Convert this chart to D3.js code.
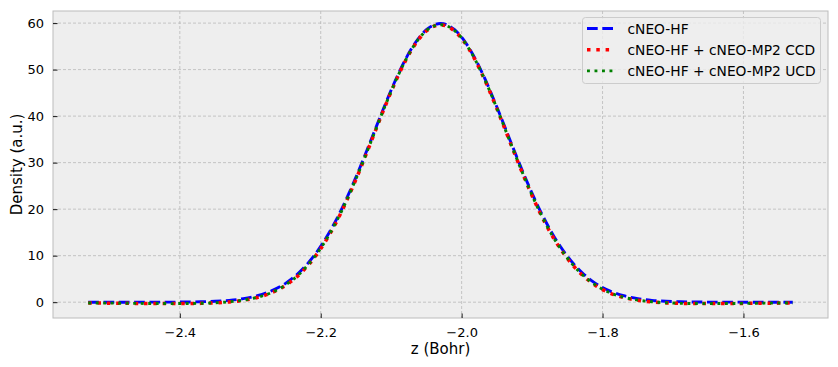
<!DOCTYPE html>
<html>
<head>
<meta charset="utf-8">
<script src="https://cdn.jsdelivr.net/npm/d3@7"></script>
<style>
  body { margin: 0; background: #fff; }
  svg { display: block; font-family: "DejaVu Sans", sans-serif; }
</style>
</head>
<body>
<svg id="chart" width="838" height="367"></svg>
<script>
// z grid (Bohr) at 0.02 steps
var zValues = [
  -2.53, -2.51, -2.49, -2.47, -2.45, -2.43, -2.41, -2.39, -2.37, -2.35,
  -2.33, -2.31, -2.29, -2.27, -2.25, -2.23, -2.21, -2.19, -2.17, -2.15,
  -2.13, -2.11, -2.09, -2.07, -2.05, -2.03, -2.01, -1.99, -1.97, -1.95,
  -1.93, -1.91, -1.89, -1.87, -1.85, -1.83, -1.81, -1.79, -1.77, -1.75,
  -1.73, -1.71, -1.69, -1.67, -1.65, -1.63, -1.61, -1.59, -1.57, -1.55, -1.53
];

var hfDensity = [
  0.00, 0.00, 0.00, 0.00, 0.01, 0.01, 0.02, 0.04, 0.10, 0.20,
  0.40, 0.76, 1.39, 2.43, 4.05, 6.47, 9.88, 14.42, 20.13, 26.88,
  34.34, 41.96, 49.03, 54.80, 58.58, 59.90, 58.58, 54.80, 49.03, 41.96,
  34.34, 26.88, 20.13, 14.42, 9.88, 6.47, 4.05, 2.43, 1.39, 0.76,
  0.40, 0.20, 0.10, 0.04, 0.02, 0.01, 0.01, 0.00, 0.00, 0.00, 0.00
];

var ccdDensity = [
  -0.18, -0.20, -0.22, -0.25, -0.28, -0.30, -0.30, -0.30, -0.25, -0.15,
  0.05, 0.40, 1.00, 2.00, 3.60, 6.00, 9.40, 13.90, 19.60, 26.40,
  33.90, 41.60, 48.70, 54.50, 58.30, 59.60, 58.30, 54.50, 48.70, 41.60,
  33.90, 26.40, 19.60, 13.90, 9.40, 6.00, 3.60, 2.00, 1.00, 0.40,
  0.05, -0.15, -0.25, -0.30, -0.30, -0.30, -0.28, -0.25, -0.22, -0.20, -0.18
];

var ucdDensity = [
  -0.17, -0.19, -0.21, -0.24, -0.27, -0.29, -0.30, -0.29, -0.24, -0.13,
  0.08, 0.45, 1.05, 2.05, 3.70, 6.10, 9.50, 14.00, 19.70, 26.50,
  34.00, 41.70, 48.80, 54.60, 58.40, 59.65, 58.40, 54.60, 48.80, 41.70,
  34.00, 26.50, 19.70, 14.00, 9.50, 6.10, 3.70, 2.05, 1.05, 0.45,
  0.08, -0.13, -0.24, -0.29, -0.30, -0.29, -0.27, -0.24, -0.21, -0.19, -0.17
];

var seriesNames = ["cNEO-HF", "cNEO-HF + cNEO-MP2 CCD", "cNEO-HF + cNEO-MP2 UCD"];
var xTicks = [-2.4, -2.2, -2.0, -1.8, -1.6];
var yTicks = [0, 10, 20, 30, 40, 50, 60];

var styles = [
  { color: "#0000ff", width: 2.9, dash: "10.7,4.6" },
  { color: "#ff0000", width: 3.5, dash: "3.5,5.8" },
  { color: "#008000", width: 2.9, dash: "2.9,4.6" }
];

var svg = d3.select("#chart");
var plotL = 53, plotR = 828, plotT = 11, plotB = 318;

var x = d3.scaleLinear().domain([-2.58, -1.48]).range([plotL, plotR]);
var y = d3.scaleLinear().domain([-3.4, 62.6]).range([plotB, plotT]);

svg.append("rect")
  .attr("x", plotL).attr("y", plotT)
  .attr("width", plotR - plotL).attr("height", plotB - plotT)
  .attr("fill", "#eeeeee");

// grid
var grid = svg.append("g");
xTicks.forEach(function(t) {
  grid.append("line")
    .attr("x1", x(t)).attr("x2", x(t)).attr("y1", plotT).attr("y2", plotB)
    .attr("stroke", "#b2b2b2").attr("stroke-width", 0.7).attr("stroke-dasharray", "3,2");
});
yTicks.forEach(function(t) {
  grid.append("line")
    .attr("x1", plotL).attr("x2", plotR).attr("y1", y(t)).attr("y2", y(t))
    .attr("stroke", "#b2b2b2").attr("stroke-width", 0.7).attr("stroke-dasharray", "3,2");
});

// curves
var seriesData = [hfDensity, ccdDensity, ucdDensity];
var line = d3.line()
  .x(function(d) { return x(d[0]); })
  .y(function(d) { return y(d[1]); })
  .curve(d3.curveMonotoneX);

svg.append("clipPath").attr("id", "clip")
  .append("rect").attr("x", plotL).attr("y", plotT)
  .attr("width", plotR - plotL).attr("height", plotB - plotT);

seriesData.forEach(function(vals, i) {
  var pts = zValues.map(function(z, j) { return [z, vals[j]]; });
  svg.append("path")
    .attr("d", line(pts))
    .attr("fill", "none")
    .attr("clip-path", "url(#clip)")
    .attr("stroke", styles[i].color)
    .attr("stroke-width", styles[i].width)
    .attr("stroke-dasharray", styles[i].dash)
    .attr("stroke-linecap", "butt");
});

// frame
svg.append("rect")
  .attr("x", plotL).attr("y", plotT)
  .attr("width", plotR - plotL).attr("height", plotB - plotT)
  .attr("fill", "none").attr("stroke", "#bcbcbc").attr("stroke-width", 1);

// axes
var xAxis = d3.axisBottom(x).tickValues(xTicks).tickSizeInner(-4.5).tickSizeOuter(0).tickPadding(10)
  .tickFormat(function(d) { return d3.format(".1f")(d).replace("-", "\u2212"); });
var gx = svg.append("g").attr("transform", "translate(0," + plotB + ")").call(xAxis);
gx.select(".domain").remove();
gx.selectAll("text").attr("font-size", 13).attr("fill", "#000").attr("font-family", "DejaVu Sans");
gx.selectAll("line").attr("stroke", "#000").attr("stroke-width", 0.9);

var yAxis = d3.axisLeft(y).tickValues(yTicks).tickSizeInner(-4.5).tickSizeOuter(0).tickPadding(9);
var gy = svg.append("g").attr("transform", "translate(" + plotL + ",0)").call(yAxis);
gy.select(".domain").remove();
gy.selectAll("text").attr("font-size", 13).attr("fill", "#000").attr("font-family", "DejaVu Sans");
gy.selectAll("line").attr("stroke", "#000").attr("stroke-width", 0.9);

// axis labels
svg.append("text")
  .attr("x", (plotL + plotR) / 2).attr("y", 353.5)
  .attr("text-anchor", "middle").attr("font-size", 15).attr("fill", "#000")
  .text("z (Bohr)");
svg.append("text")
  .attr("transform", "translate(22," + ((plotT + plotB) / 2) + ") rotate(-90)")
  .attr("text-anchor", "middle").attr("font-size", 15).attr("fill", "#000")
  .text("Density (a.u.)");

// legend
var lg = svg.append("g");
lg.append("rect")
  .attr("x", 582.5).attr("y", 17.5).attr("width", 238).attr("height", 66).attr("rx", 3)
  .attr("fill", "#eeeeee").attr("fill-opacity", 0.8)
  .attr("stroke", "#cccccc").attr("stroke-width", 1);
seriesNames.forEach(function(name, i) {
  var ry = 28.5 + i * 21.2;
  lg.append("line")
    .attr("x1", 587).attr("x2", 613).attr("y1", ry).attr("y2", ry)
    .attr("stroke", styles[i].color)
    .attr("stroke-width", styles[i].width)
    .attr("stroke-dasharray", styles[i].dash);
  lg.append("text")
    .attr("x", 627.5).attr("y", ry + 5)
    .attr("font-size", 13.8).attr("fill", "#000")
    .text(name);
});
</script>
</body>
</html>
